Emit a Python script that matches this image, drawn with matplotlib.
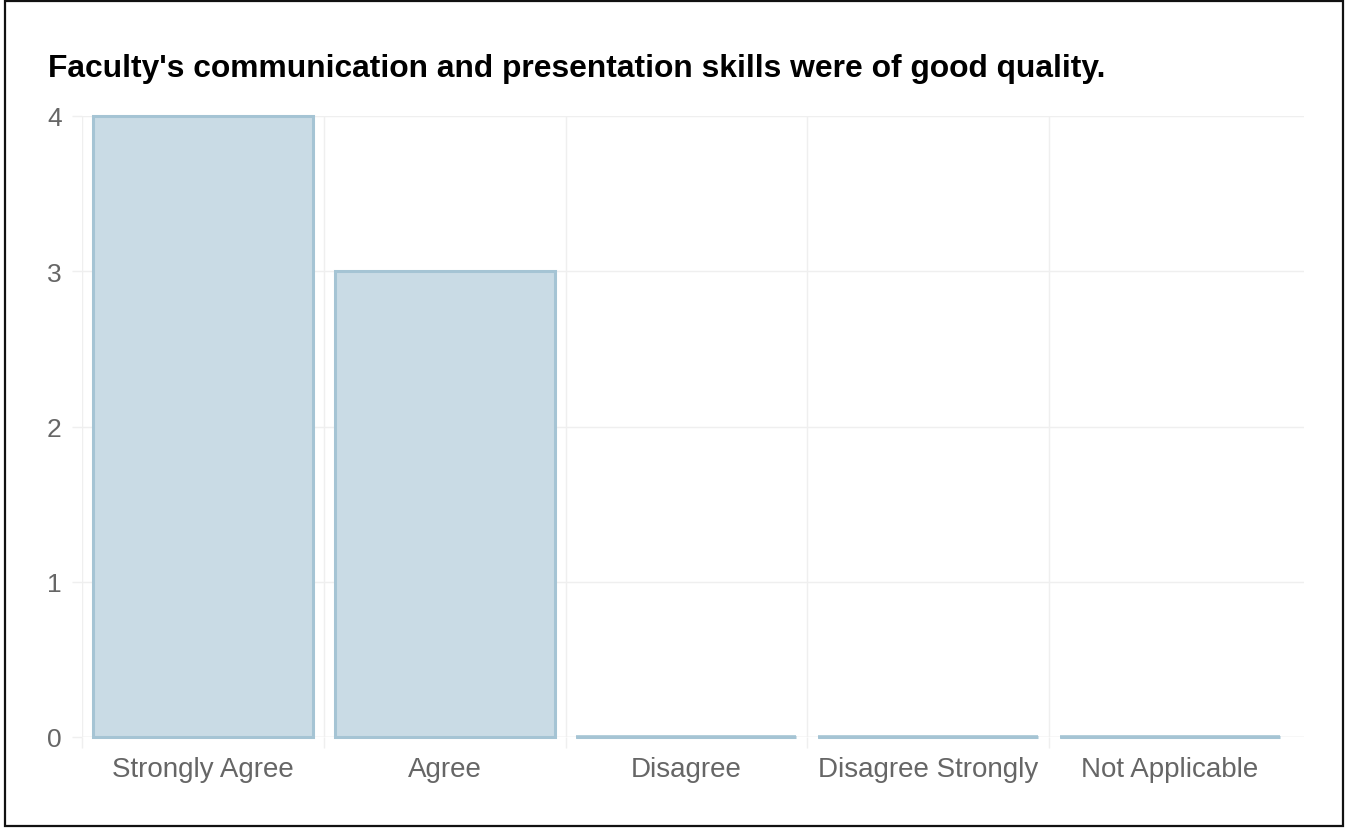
import matplotlib
matplotlib.use("Agg")
import matplotlib.pyplot as plt
from matplotlib.patches import Rectangle

categories = ["Strongly Agree", "Agree", "Disagree", "Disagree Strongly", "Not Applicable"]
values = [4, 3, 0, 0, 0]
yticks = [0, 1, 2, 3, 4]
title = "Faculty's communication and presentation skills were of good quality."

plt.rcParams['font.family'] = ['Liberation Sans', 'DejaVu Sans']

W, H = 1345, 829
fig = plt.figure(figsize=(W / 100, H / 100), dpi=100)
left_px, right_px, top_px, bottom_px = 82, 1304, 117, 738
ax = fig.add_axes([left_px / W, (H - bottom_px) / H, (right_px - left_px) / W, (bottom_px - top_px) / H])

bar_w = 0.91
edge = "#a5c4d4"
fill = "#c9dbe5"
x = list(range(len(categories)))
bars = ax.bar(x, values, width=bar_w, color=fill, edgecolor=edge, linewidth=2.2, zorder=3)
for b in bars:
    b.set_clip_on(False)
zero_x = [xi for xi, v in zip(x, values) if v == 0]
zl = ax.hlines([0] * len(zero_x), [xi - bar_w / 2 for xi in zero_x], [xi + bar_w / 2 for xi in zero_x],
               colors=edge, linewidth=2.6, zorder=4)
zl.set_clip_on(False)

unit_px = 241.75
ax.set_xlim(-0.5, -0.5 + (right_px - left_px) / unit_px)
ax.set_ylim(0, 4)
ax.set_yticks(yticks)
ax.set_xticks(x)
ax.set_xticklabels(categories)
ax.set_xticks([i - 0.5 for i in range(len(categories))], minor=True)

for s in ax.spines.values():
    s.set_visible(False)

grid_c = "#efefef"
ax.grid(axis='y', which='major', color=grid_c, linewidth=1, zorder=0)
ax.grid(axis='x', which='minor', color=grid_c, linewidth=1, zorder=0)
ax.tick_params(axis='x', which='major', length=0, pad=14, labelsize=20, labelcolor="#666666")
ax.tick_params(axis='x', which='minor', length=8, color=grid_c, width=1)
ax.tick_params(axis='y', length=7.5, color=grid_c, width=1, pad=7, labelsize=19, labelcolor="#666666")
ax.axhline(0, color="#e2e2e2", linewidth=1, zorder=1)

fig.text(48 / W, 1 - 77 / H, title, fontsize=22.9, fontweight='bold', color='black',
         va='baseline', ha='left')

fig.patches.append(Rectangle((5 / W, 2 / H), 1338 / W, 825 / H, transform=fig.transFigure,
                             fill=False, edgecolor='#111111', linewidth=1.6))

fig.savefig("out.png", dpi=100)
